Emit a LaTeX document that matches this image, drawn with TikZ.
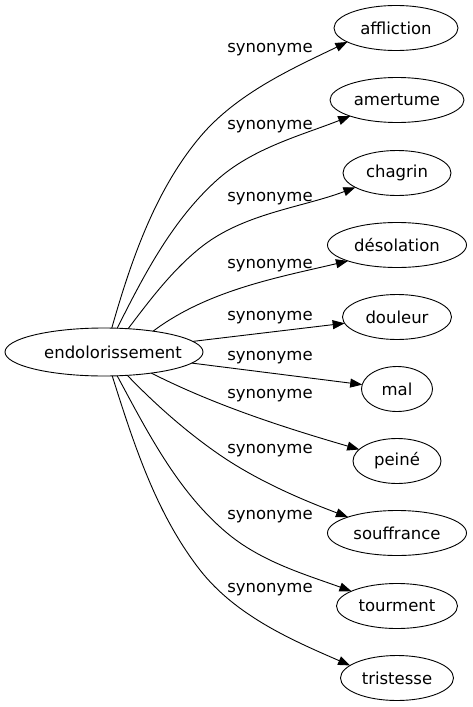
\documentclass[tikz,border=0pt]{standalone}
\usepackage{fontspec}
\setmainfont{DejaVu Sans}
\usetikzlibrary{arrows.meta,shapes.geometric}
\begin{document}
\begin{tikzpicture}[x=1pt,y=-1pt,
  word/.style={ellipse, draw, line width=0.9pt, inner sep=0pt, outer sep=0pt,
    minimum height=45pt, font=\fontsize{16.5}{19}\selectfont},
  rel/.style={draw, line width=0.9pt, -{Triangle[length=12pt,width=9pt]}},
  lbl/.style={font=\fontsize{16.5}{19}\selectfont, inner sep=0pt}]
\useasboundingbox (0,0) rectangle (472,707);
\node[word, minimum width=198pt, minimum height=48pt] (src) at (104,352) {\makebox[0pt]{\hspace{18pt}endolorissement}};
\node[word, minimum width=124pt] (t1) at (396,28) {affliction};
\node[word, minimum width=134pt] (t2) at (397,100) {amertume};
\node[word, minimum width=108pt] (t3) at (397,173) {chagrin};
\node[word, minimum width=139pt] (t4) at (397,245) {désolation};
\node[word, minimum width=109pt] (t5) at (397,317) {douleur};
\node[word, minimum width=71pt] (t6) at (397,389) {mal};
\node[word, minimum width=88pt] (t7) at (397,461) {peiné};
\node[word, minimum width=139pt] (t8) at (397,533) {souffrance};
\node[word, minimum width=121pt] (t9) at (397,606) {tourment};
\node[word, minimum width=113pt] (t10) at (397,678) {tristesse};
\foreach \n/\y in {1/50,2/127,3/199,4/266,5/318,6/358,7/396,8/451,9/517,10/590}
  \node[lbl] (l\n) at (270,\y) {synonyme};
\path[rel] (src.72) .. controls (131,260.7) and (155,190.6) .. (200,137)
   .. controls (237.3,92.6) and (294.9,67.4) .. (t1.196);
\path[rel] (src.61.4) .. controls (144.2,274.5) and (172.4,220.1) .. (217,180)
   .. controls (252.7,147.9) and (302.5,135) .. (t2.199);
\path[rel] (src.44.2) .. controls (150.2,299.6) and (172,270.6) .. (200,248)
   .. controls (242.7,213.4) and (301.6,207.7) .. (t3.199);
\path[rel] (src.23.1) .. controls (208,290) and (278.8,277.3) .. (t4.198);
\path[rel] (src) -- (t5);
\path[rel] (src) -- (t6);
\path[rel] (src.-24.8) .. controls (215.2,405.5) and (285.8,428.1) .. (t7.163);
\path[rel] (src.-45.4) .. controls (155,404.1) and (185,430.6) .. (217,453)
   .. controls (256.3,480.5) and (302.2,499.8) .. (t8.162);
\path[rel] (src.-61.4) .. controls (148,433) and (178,491.9) .. (227,533)
   .. controls (261.5,561.9) and (305.7,574.6) .. (t9.162);
\path[rel] (src.-71.5) .. controls (133.9,444.5) and (156.3,514) .. (200,570)
   .. controls (236.3,616.5) and (294.1,641) .. (t10.165);
\end{tikzpicture}
\end{document}
